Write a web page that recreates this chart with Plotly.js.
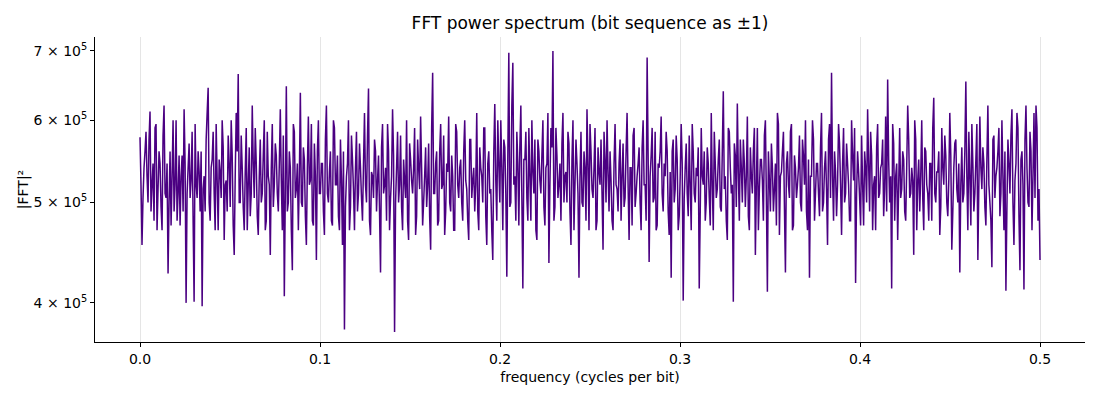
<!DOCTYPE html>
<html lang="en">
    <head>
        <meta charset="UTF-8" />
        <script src="https://cdn.plot.ly/plotly-3.0.1.min.js"></script>
        <title>FFT power spectrum</title>
        <style>
            body { margin: 0; background: #fff; }
            #graph { width: 1100px; height: 400px; }
        </style>
    </head>
    <body>
        <div id="graph"></div>
    </body>
    <script>
        // |FFT|^2 values, in thousands.
        // evenBins holds bins 0, 2, 4, ... ; oddBins holds the bins in between
        const evenBins = [
            578, 455, 540, 585, 500, 612, 520, 480, 595, 515,
            545, 470, 620, 505, 427, 560, 530, 490, 600, 510,
            475, 555, 615, 400, 540, 505, 585, 401, 520, 560,
            490, 397, 530, 575, 645, 480, 550, 510, 595, 470,
            535, 600, 460, 525, 580, 495, 555, 445, 610, 665,
            500, 540, 470, 590, 520, 485, 620, 505, 545, 465,
            575, 510, 600, 480, 530, 445, 595, 520, 555, 490,
            615, 470, 406, 647, 500, 540, 430, 585, 515, 470,
            638, 495, 550, 455, 605, 525, 480, 570, 440, 600,
            510, 545, 465, 620, 500, 560, 475, 590, 520, 485,
            575, 455, 377, 530, 600, 495, 550, 470, 585, 510,
            540, 480, 610, 500, 644, 465, 530, 575, 490, 555,
            428, 595, 520, 480, 560, 505, 615, 375, 540, 500,
            580, 470, 525, 600, 460, 550, 510, 590, 485, 540,
            605, 475, 530, 495, 570, 450, 667, 510, 560, 480,
            595, 520, 465, 545, 605, 490, 530, 470, 585, 505,
            550, 480, 600, 515, 460, 575, 525, 490, 610, 470,
            540, 500, 590, 455, 560, 515, 440, 622, 480, 545,
            600, 470, 565, 424, 697, 500, 682, 530, 585, 475,
            620, 413, 550, 505, 590, 480, 535, 575, 460, 560,
            510, 600, 475, 545, 437, 590, 700, 495, 555, 520,
            480, 610, 530, 500, 570, 455, 600, 520, 545, 423,
            585, 495, 540, 615, 470, 560, 505, 590, 480, 535,
            575, 450, 550, 600, 490, 525, 470, 595, 515, 545,
            480, 570, 505, 610, 460, 540, 580, 495, 530, 565,
            470, 600, 520, 690, 438, 555, 500, 585, 475, 540,
            605, 490, 530, 560, 465, 423, 575, 515, 550, 485,
            595, 402, 540, 510, 580, 470, 560, 500, 530, 413,
            590, 520, 480, 565, 505, 610, 470, 545, 515, 575,
            490, 640, 530, 460, 585, 510, 401, 555, 623, 480,
            540, 575, 495, 605, 470, 530, 560, 445, 590, 515,
            550, 480, 600, 410, 525, 570, 490, 545, 610, 465,
            535, 585, 428, 560, 505, 595, 475, 540, 520, 580,
            490, 555, 600, 470, 423, 530, 575, 510, 545, 485,
            610, 500, 560, 455, 595, 667, 480, 535, 520, 570,
            465, 590, 510, 545, 480, 600, 525, 418, 560, 505,
            580, 475, 540, 615, 490, 555, 520, 470, 595, 510,
            545, 485, 605, 657, 500, 413, 570, 530, 460, 590,
            515, 550, 480, 620, 505, 540, 445, 575, 525, 490,
            600, 470, 560, 510, 545, 480, 631, 500, 535, 465,
            590, 520, 555, 485, 610, 450, 540, 575, 500, 428,
            565, 510, 654, 470, 530, 595, 490, 550, 440, 605,
            515, 545, 475, 620, 500, 433, 580, 530, 560, 485,
            600, 470, 411, 575, 510, 615, 455, 545, 590, 430,
            560, 412, 620, 500, 585, 470, 610, 620, 480, 440
        ];

        const oddBins = [
            520, 505, 560, 530, 575, 490, 545, 590, 470, 560,
            495, 580, 510, 545, 500, 475, 600, 520, 480, 555,
            530, 490, 545, 510, 570, 525, 480, 595, 505, 535,
            560, 515, 490, 610, 500, 540, 585, 470, 525, 550,
            505, 565, 520, 490, 545, 600, 475, 530, 560, 500,
            580, 495, 535, 470, 565, 510, 545, 590, 485, 530,
            500, 555, 470, 585, 520, 540, 495, 570, 510, 545,
            525, 580, 510, 490, 560, 470, 595, 505, 545, 530,
            500, 565, 485, 540, 520, 595, 475, 530, 560, 510,
            545, 490, 575, 510, 535, 480, 600, 520, 555, 470,
            525, 560, 495, 545, 470, 580, 515, 540, 490, 570,
            505, 545, 520, 580, 480, 535, 505, 560, 525, 490,
            565, 510, 540, 595, 470, 530, 555, 500, 585, 520,
            495, 550, 505, 480, 570, 525, 540, 465, 575, 515,
            540, 500, 565, 520, 485, 590, 510, 545, 475, 560,
            515, 580, 490, 535, 500, 555, 470, 595, 520, 540,
            500, 560, 525, 480, 575, 505, 540, 520, 490, 565,
            530, 590, 485, 545, 510, 470, 560, 525, 600, 500,
            540, 575, 510, 555, 495, 620, 520, 480, 545, 565,
            505, 550, 585, 480, 530, 600, 510, 470, 575, 525,
            555, 495, 540, 610, 520, 565, 480, 590, 505, 545,
            570, 500, 535, 585, 490, 550, 470, 575, 510, 530,
            500, 560, 480, 545, 595, 515, 540, 470, 565, 520,
            510, 585, 500, 535, 560, 480, 545, 520, 490, 575,
            530, 495, 560, 520, 540, 475, 590, 510, 545, 500,
            565, 520, 480, 555, 530, 590, 505, 470, 545, 560,
            510, 545, 585, 490, 535, 560, 500, 580, 470, 530,
            545, 505, 570, 485, 520, 595, 510, 540, 565, 490,
            530, 560, 500, 545, 475, 520, 585, 505, 550, 495,
            560, 515, 480, 590, 540, 520, 570, 495, 535, 575,
            500, 545, 530, 485, 565, 510, 590, 520, 470, 550,
            525, 580, 505, 560, 490, 540, 515, 475, 595, 530,
            560, 495, 545, 520, 585, 470, 555, 505, 540, 500,
            575, 520, 490, 550, 530, 600, 480, 545, 510, 565,
            490, 540, 515, 575, 505, 530, 560, 485, 595, 520,
            545, 500, 570, 520, 480, 555, 590, 510, 535, 475,
            520, 560, 500, 545, 585, 470, 530, 565, 505, 540,
            575, 515, 490, 550, 530, 595, 480, 545, 520, 505,
            560, 490, 540, 575, 510, 525, 600, 470, 550, 530,
            505, 565, 520, 480, 545, 590, 510, 535, 560, 495,
            540, 580, 500, 525, 555, 490, 570, 515, 545, 520,
            500, 560, 530, 585, 475, 545, 510, 595, 520, 540,
            565, 495, 550, 520, 480, 575, 505, 540, 590, 510,
            530, 560, 495, 545, 580, 500, 525, 610, 485, 550,
            520, 575, 540, 495, 560, 530, 505, 590, 515
        ];

        const yTickVals = [4e5, 5e5, 6e5, 7e5];
        const yTickText = ["4 × 10<sup>5</sup>", "5 × 10<sup>5</sup>", "6 × 10<sup>5</sup>", "7 × 10<sup>5</sup>"];
        const xTickVals = [0.0, 0.1, 0.2, 0.3, 0.4, 0.5];
        const xTickText = ["0.0", "0.1", "0.2", "0.3", "0.4", "0.5"];

        // interleave the two lists back into bin order
        const powerK = [];
        evenBins.forEach((v, i) => {
            powerK.push(v);
            if (i < oddBins.length) powerK.push(oddBins[i]);
        });

        // frequency bins run evenly from 0 to 0.5 cycles per bit
        const freq = powerK.map((v, i) => (0.5 * i) / (powerK.length - 1));
        const power = powerK.map((v) => v * 1000);

        const trace = {
            x: freq,
            y: power,
            mode: "lines",
            type: "scatter",
            line: { color: "#4b0082", width: 1.5, simplify: false },
            hoverinfo: "skip",
        };

        const font = { family: "DejaVu Sans, sans-serif", size: 14, color: "#000" };

        const layout = {
            width: 1100,
            height: 400,
            margin: { l: 95, r: 15, t: 37, b: 58 },
            paper_bgcolor: "#fff",
            plot_bgcolor: "#fff",
            font: font,
            showlegend: false,
            title: {
                text: "FFT power spectrum (bit sequence as ±1)",
                font: { family: "DejaVu Sans, sans-serif", size: 17, color: "#000" },
                x: 0.5,
                xref: "paper",
                y: 1 - 23 / 400,
                yref: "container",
                yanchor: "middle",
            },
            xaxis: {
                range: [-0.025, 0.525],
                tickvals: xTickVals,
                ticktext: xTickText,
                ticks: "outside",
                ticklen: 4,
                tickcolor: "#000",
                showline: true,
                linecolor: "#000",
                linewidth: 1,
                showgrid: true,
                gridcolor: "#e5e5e5",
                gridwidth: 1,
                zeroline: false,
                mirror: false,
                title: { text: "frequency (cycles per bit)", font: font, standoff: 6 },
            },
            yaxis: {
                type: "log",
                range: [Math.log10(3.667e5), Math.log10(7.22e5)],
                tickvals: yTickVals,
                ticktext: yTickText,
                ticks: "outside",
                ticklen: 4,
                tickcolor: "#000",
                showline: true,
                linecolor: "#000",
                linewidth: 1,
                showgrid: false,
                zeroline: false,
                title: { text: "|FFT|²", font: font, standoff: 1 },
            },
        };

        Plotly.newPlot("graph", [trace], layout, { displayModeBar: false, staticPlot: true });
    </script>
</html>
